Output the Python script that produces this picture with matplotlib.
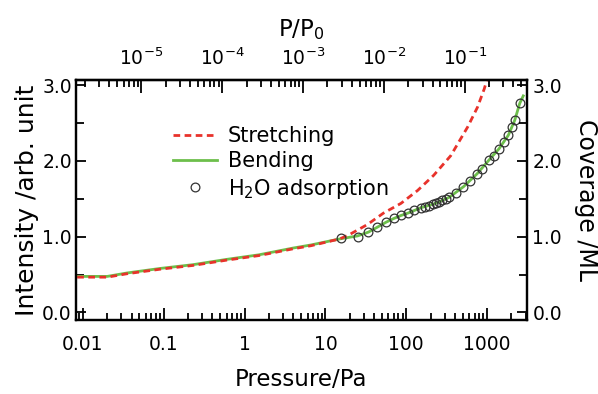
import numpy as np
import matplotlib
matplotlib.use('Agg')
import matplotlib.pyplot as plt
from matplotlib.ticker import LogLocator, NullFormatter, MultipleLocator

# --- data ---
p_bend = [0.0085, 0.01, 0.02, 0.035, 0.09, 0.23, 0.6, 1.5, 4, 6.6, 15, 25, 34, 43, 56, 70, 86,
          104, 150, 230, 340, 510, 750, 1050, 1400, 1830, 2200, 2530, 2800]
y_bend = [0.475, 0.475, 0.475, 0.52, 0.58, 0.63, 0.70, 0.76, 0.85, 0.89, 0.97, 1.01, 1.06, 1.12,
          1.19, 1.24, 1.28, 1.31, 1.38, 1.44, 1.52, 1.66, 1.83, 2.01, 2.16, 2.34, 2.54, 2.76, 2.86]

p_str = [0.0085, 0.01, 0.02, 0.035, 0.09, 0.23, 0.6, 1.5, 4, 6.6, 15, 20, 33, 52, 86, 138, 218,
         355, 575, 760, 920, 1000]
y_str = [0.465, 0.465, 0.465, 0.51, 0.57, 0.62, 0.69, 0.75, 0.84, 0.88, 0.97, 1.03, 1.16, 1.31,
         1.44, 1.61, 1.81, 2.07, 2.45, 2.71, 2.95, 3.08]

p_h2o = [15.6, 25, 34, 43, 56, 70, 86, 104, 125, 150, 170, 192, 212, 233, 256, 280, 310, 340,
         410, 510, 620, 750, 870, 1050, 1220, 1400, 1600, 1830, 2050, 2200, 2530]
y_h2o = [0.98, 1.00, 1.06, 1.13, 1.19, 1.24, 1.28, 1.31, 1.35, 1.38, 1.39, 1.41, 1.43, 1.44,
         1.46, 1.48, 1.50, 1.52, 1.58, 1.66, 1.74, 1.83, 1.90, 2.01, 2.07, 2.16, 2.25, 2.34,
         2.45, 2.54, 2.76]

P0 = 5300.0  # Pa, saturation pressure used for the top axis

xticks = [0.01, 0.1, 1, 10, 100, 1000]
xticklabels = ['0.01', '0.1', '1', '10', '100', '1000']
topticks = [1e-5, 1e-4, 1e-3, 1e-2, 1e-1]
toplabels = ['$10^{-5}$', '$10^{-4}$', '$10^{-3}$', '$10^{-2}$', '$10^{-1}$']
yticks = [0.0, 1.0, 2.0, 3.0]
yticklabels = ['0.0', '1.0', '2.0', '3.0']

fig = plt.figure(figsize=(5.98, 3.94), dpi=100)
ax = fig.add_axes([0.127, 0.188, 0.754, 0.609])

ax.plot(p_str, y_str, color='#e8322b', lw=2.0, dashes=(2.4, 1.6), label='Stretching', zorder=3)
ax.plot(p_bend, y_bend, color='#6dbf4b', lw=2.0, label='Bending', zorder=2)
ax.plot(p_h2o, y_h2o, 'o', ms=6.3, mfc='none', mec='#333333', mew=0.9,
        label='H$_2$O adsorption', zorder=4)

ax.set_xscale('log')
ax.set_xlim(0.0082, 3100)
ax.set_ylim(-0.1, 3.07)
ax.set_xticks(xticks, xticklabels)
ax.xaxis.set_minor_locator(LogLocator(base=10, subs=np.arange(2, 10)))
ax.xaxis.set_minor_formatter(NullFormatter())
ax.set_yticks(yticks, yticklabels)
ax.yaxis.set_minor_locator(MultipleLocator(0.5))

ax.tick_params(axis='both', which='both', direction='in', width=1.3, labelsize=13.5, top=False)
ax.tick_params(axis='x', which='major', length=9, pad=11)
ax.tick_params(axis='x', which='minor', length=5)
ax.tick_params(axis='y', which='major', length=7, pad=3)
ax.tick_params(axis='y', which='minor', length=6)
for s in ax.spines.values():
    s.set_linewidth(1.6)

ax.set_xlabel('Pressure/Pa', fontsize=16.5, labelpad=10)
ax.set_ylabel('Intensity /arb. unit', fontsize=18, labelpad=2)

# right axis
ax2 = ax.twinx()
ax2.set_ylim(ax.get_ylim())
ax2.set_yticks(yticks, yticklabels)
ax2.yaxis.set_minor_locator(MultipleLocator(0.5))
ax2.tick_params(axis='y', which='both', direction='in', width=1.3, labelsize=13.5)
ax2.tick_params(axis='y', which='major', length=7, pad=4)
ax2.tick_params(axis='y', which='minor', length=6)
ax2.set_ylabel('Coverage /ML', fontsize=17, rotation=270, labelpad=26)
for s in ax2.spines.values():
    s.set_linewidth(1.6)

# top axis in P/P0
top = ax.secondary_xaxis('top', functions=(lambda p: p / P0, lambda r: r * P0))
top.set_xticks(topticks, toplabels)
top.xaxis.set_minor_locator(LogLocator(base=10, subs=np.arange(2, 10)))
top.xaxis.set_minor_formatter(NullFormatter())
top.tick_params(axis='x', which='both', direction='in', width=1.3, labelsize=13.5)
top.tick_params(axis='x', which='major', length=9, pad=8)
top.tick_params(axis='x', which='minor', length=5)
top.set_xlabel('P/P$_0$', fontsize=16.5, labelpad=8)
top.spines['top'].set_linewidth(1.6)

ax.legend(loc='upper left', bbox_to_anchor=(0.216, 0.807), frameon=False, fontsize=15,
          handlelength=2.1, handletextpad=0.5, labelspacing=0.25, borderpad=0, borderaxespad=0)

fig.savefig('out.png', dpi=100)
